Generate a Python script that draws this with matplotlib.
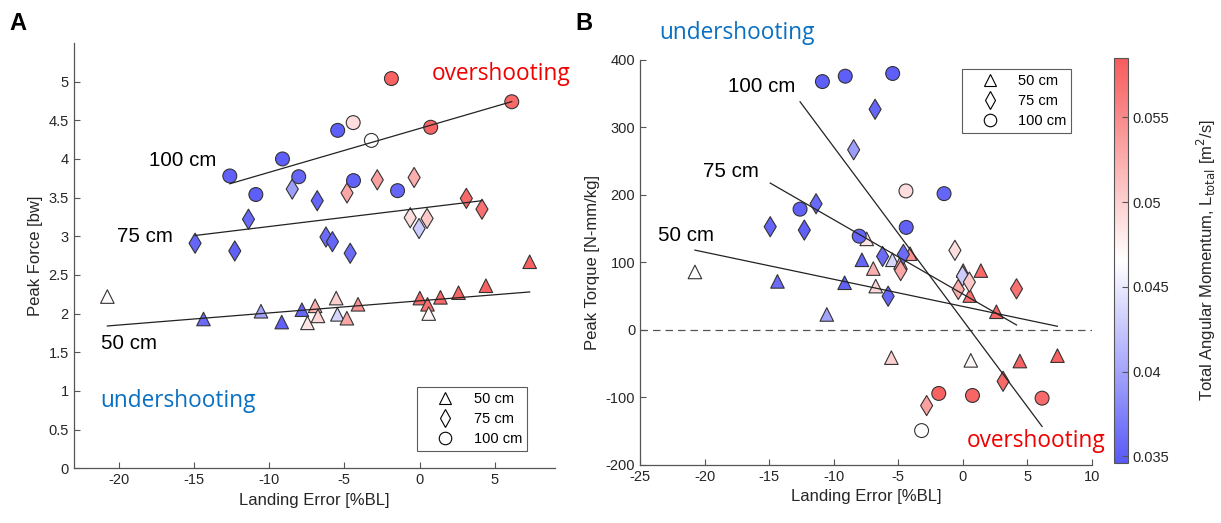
import numpy as np
import matplotlib
matplotlib.use("Agg")
import matplotlib.pyplot as plt
from matplotlib.colors import LinearSegmentedColormap, Normalize
from matplotlib.lines import Line2D

plt.rcParams['font.family'] = ['Liberation Sans', 'DejaVu Sans']
plt.rcParams['axes.unicode_minus'] = False

# ---------------- data ----------------
heights = ['50 cm', '75 cm', '100 cm']

err_50 = [-20.75, -14.36, -10.54, -9.16, -7.82, -7.45, -6.94, -6.75, -5.54, -5.46,
          -4.83, -4.09, 0.02, 0.53, 0.61, 1.39, 2.59, 4.41, 7.32]
force_50 = [2.22, 1.93, 2.03, 1.89, 2.05, 1.88, 2.10, 1.97, 2.20, 1.99,
            1.94, 2.12, 2.20, 2.12, 2.00, 2.21, 2.27, 2.36, 2.67]
torque_50 = [86, 72, 23, 70, 104, 135, 91, 65, -41, 104,
             100, 113, 88, 51, -45, 88, 27, -46, -38]
L_50 = [0.0468, 0.0360, 0.0400, 0.0352, 0.0355, 0.0485, 0.0525, 0.0495, 0.0500, 0.0435,
        0.0530, 0.0545, 0.0575, 0.0570, 0.0472, 0.0575, 0.0578, 0.0580, 0.0580]

err_75 = [-14.92, -12.28, -11.37, -8.46, -6.80, -6.22, -5.79, -4.82, -4.61, -2.81,
          -0.62, -0.36, -0.03, 0.50, 3.11, 4.15]
force_75 = [2.91, 2.81, 3.22, 3.61, 3.46, 2.99, 2.93, 3.56, 2.78, 3.73,
            3.24, 3.76, 3.10, 3.23, 3.49, 3.35]
torque_75 = [153, 148, 187, 267, 327, 109, 50, 88, 112, -112,
             118, 60, 80, 71, -76, 61]
L_75 = [0.0355, 0.0352, 0.0358, 0.0395, 0.0355, 0.0360, 0.0355, 0.0530, 0.0360, 0.0535,
        0.0490, 0.0525, 0.0430, 0.0505, 0.0575, 0.0570]

err_100 = [-12.61, -10.88, -9.11, -8.03, -5.44, -4.41, -4.39, -3.20, -1.87, -1.46, 0.74, 6.13]
force_100 = [3.78, 3.54, 4.00, 3.77, 4.37, 4.47, 3.72, 4.24, 5.04, 3.59, 4.41, 4.74]
torque_100 = [179, 368, 376, 139, 380, 206, 152, -149, -94, 202, -97, -101]
L_100 = [0.0352, 0.0350, 0.0350, 0.0355, 0.0350, 0.0490, 0.0352, 0.0466, 0.0580, 0.0355,
         0.0578, 0.0575]

# linear fits: (slope, intercept)
force_fit = [(0.01568, 2.165), (0.0236, 3.362), (0.0567, 4.394)]
torque_fit = [(-4.02, 34.9), (-11.02, 53.2), (-25.67, 14.4)]

L_min, L_max = 0.0346, 0.0585
force_ticks = [0, 0.5, 1, 1.5, 2, 2.5, 3, 3.5, 4, 4.5, 5]
torque_ticks = [-200, -100, 0, 100, 200, 300, 400]
err_ticks_A = [-20, -15, -10, -5, 0, 5]
err_ticks_B = [-25, -20, -15, -10, -5, 0, 5, 10]
cbar_ticks = [0.035, 0.04, 0.045, 0.05, 0.055]

# ---------------- style ----------------
cmap = LinearSegmentedColormap.from_list(
    'bwr_soft', [(0.35, 0.35, 0.97), (1, 1, 1), (0.97, 0.36, 0.36)])
norm = Normalize(L_min, L_max)
markers = ['^', 'd', 'o']
sizes = [95, 105, 100]
errs = [err_50, err_75, err_100]
forces = [force_50, force_75, force_100]
torques = [torque_50, torque_75, torque_100]
Ls = [L_50, L_75, L_100]

red = '#F00000'
blue = '#0A70C2'
ann_font = ['Open Sans', 'DejaVu Sans']
tick_col = '#262626'
lab_fs = 14.8

fig = plt.figure(figsize=(12.21, 5.23), dpi=100)
axA = fig.add_axes([0.0602, 0.1048, 0.3943, 0.813])
axB = fig.add_axes([0.5242, 0.1109, 0.3702, 0.7744])
cax = fig.add_axes([0.9120, 0.1147, 0.0118, 0.7744])


def style_axes(ax):
    for s in ['top', 'right']:
        ax.spines[s].set_visible(False)
    for s in ['left', 'bottom']:
        ax.spines[s].set_color('#555555')
        ax.spines[s].set_linewidth(0.9)
    ax.tick_params(direction='in', length=4, width=0.8, color='#555555',
                   labelsize=10.5, labelcolor=tick_col)


def make_legend(ax, handles, loc, anchor):
    leg = ax.legend(handles, heights, loc=loc, bbox_to_anchor=anchor,
                    fontsize=10.5, frameon=True, fancybox=False,
                    handletextpad=0.35, handlelength=3.15, borderpad=0.35,
                    labelspacing=0.4, borderaxespad=0)
    leg.get_frame().set_edgecolor('#333333')
    leg.get_frame().set_linewidth(0.8)
    return leg


h = [Line2D([], [], ls='none', marker=mk, mfc='white', mec='black', ms=9, mew=0.8)
     for mk in markers]

# ---------- panel A ----------
for i in range(3):
    x = np.array(errs[i]); y = np.array(forces[i])
    axA.scatter(x, y, c=Ls[i], cmap=cmap, norm=norm, marker=markers[i], s=sizes[i],
                edgecolors='#333333', linewidths=0.8, zorder=2)
    m, b = force_fit[i]
    xx = np.array([x.min(), x.max()])
    axA.plot(xx, m * xx + b, color='#222222', lw=0.9, zorder=3)

axA.set_xlim(-23, 9)
axA.set_ylim(0, 5.5)
axA.set_xticks(err_ticks_A)
axA.set_yticks(force_ticks)
axA.set_yticklabels([f'{t:g}' for t in force_ticks])
style_axes(axA)
axA.set_xlabel('Landing Error [%BL]', fontsize=12, color=tick_col)
axA.set_ylabel('Peak Force [bw]', fontsize=12, color=tick_col)

axA.text(-18.0, 3.98, '100 cm', fontsize=lab_fs, ha='left', va='center')
axA.text(-20.1, 3.00, '75 cm', fontsize=lab_fs, ha='left', va='center')
axA.text(-21.2, 1.61, '50 cm', fontsize=lab_fs, ha='left', va='center')
axA.text(0.78, 5.1, 'overshooting', fontsize=16.3, color=red, ha='left',
         va='center', family=ann_font, clip_on=False)
axA.text(-21.2, 0.87, 'undershooting', fontsize=16.3, color=blue, ha='left',
         va='center', family=ann_font)

make_legend(axA, h, 'lower right', (0.942, 0.040))

# ---------- panel B ----------
axB.axhline(0, color='#555555', lw=0.9, ls=(0, (6, 4)), zorder=1)
for i in range(3):
    x = np.array(errs[i]); y = np.array(torques[i])
    axB.scatter(x, y, c=Ls[i], cmap=cmap, norm=norm, marker=markers[i], s=sizes[i],
                edgecolors='#333333', linewidths=0.8, zorder=2)
    m, b = torque_fit[i]
    xx = np.array([x.min(), x.max()])
    axB.plot(xx, m * xx + b, color='#222222', lw=0.9, zorder=3)

axB.set_xlim(-25, 10)
axB.set_ylim(-200, 400)
axB.set_xticks(err_ticks_B)
axB.set_yticks(torque_ticks)
style_axes(axB)
axB.set_xlabel('Landing Error [%BL]', fontsize=12, color=tick_col)
axB.set_ylabel('Peak Torque [N-mm/kg]', fontsize=12, color=tick_col)

axB.text(-18.2, 360, '100 cm', fontsize=lab_fs, ha='left', va='center')
axB.text(-20.1, 235, '75 cm', fontsize=lab_fs, ha='left', va='center')
axB.text(-23.6, 140, '50 cm', fontsize=lab_fs, ha='left', va='center')
axB.text(-23.5, 440, 'undershooting', fontsize=16.3, color=blue, ha='left',
         va='center', family=ann_font, clip_on=False)
axB.text(0.3, -164, 'overshooting', fontsize=16.3, color=red, ha='left',
         va='center', family=ann_font, clip_on=False)

make_legend(axB, h, 'upper right', (0.954, 0.977))

# ---------- colorbar ----------
cb = fig.colorbar(plt.cm.ScalarMappable(norm=norm, cmap=cmap), cax=cax)
cb.set_ticks(cbar_ticks)
cb.set_ticklabels([f'{t:g}' for t in cbar_ticks])
cb.outline.set_edgecolor('#555555')
cb.outline.set_linewidth(0.8)
cax.tick_params(direction='in', length=4, width=0.8, color='#555555',
                labelsize=10.5, labelcolor=tick_col)
cb.set_label(r'Total Angular Momentum, L$_{\rm total}$ [m$^2$/s]', fontsize=12,
             color=tick_col, labelpad=18)

fig.text(0.008, 0.955, 'A', fontsize=17, fontweight='bold', ha='left', va='center')
fig.text(0.471, 0.955, 'B', fontsize=17, fontweight='bold', ha='left', va='center')

fig.savefig('out.png', dpi=100)
